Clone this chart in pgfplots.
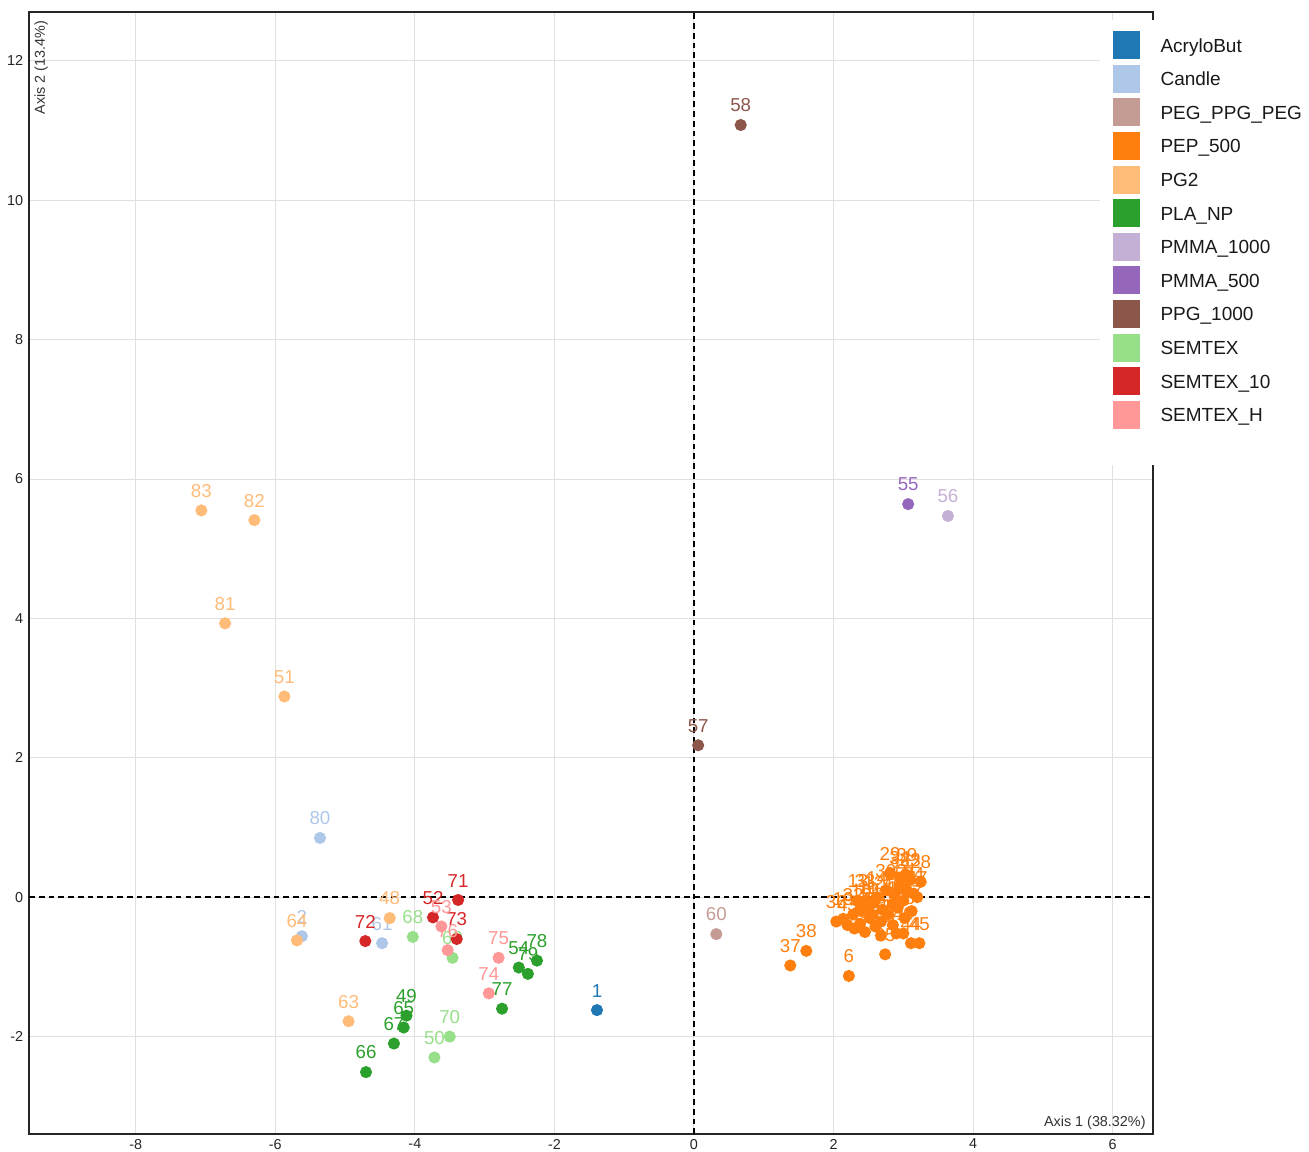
\documentclass[border=0pt]{standalone}
\usepackage{pgfplots}
\pgfplotsset{compat=1.18}
\usepackage{fontspec}
\setmainfont{Liberation Sans}
\definecolor{cA}{HTML}{1F77B4}
\definecolor{cB}{HTML}{AEC7E8}
\definecolor{cC}{HTML}{C49C94}
\definecolor{cD}{HTML}{FF7F0E}
\definecolor{cE}{HTML}{FFBB78}
\definecolor{cF}{HTML}{2CA02C}
\definecolor{cG}{HTML}{C5B0D5}
\definecolor{cH}{HTML}{9467BD}
\definecolor{cI}{HTML}{8C564B}
\definecolor{cJ}{HTML}{98DF8A}
\definecolor{cK}{HTML}{D62728}
\definecolor{cL}{HTML}{FF9896}
\pgfplotsset{
  lab/.style={only marks, mark=*, mark size=1.9pt, color=#1,
    nodes near coords, point meta=explicit symbolic,
    every node near coord/.append style={font=\fontsize{6.5}{7}\selectfont, anchor=south, inner sep=0pt, yshift=4.3pt, text=#1}}
}
\begin{document}
\begin{tikzpicture}
\begin{axis}[
  at={(0,0)}, anchor=south west,
  scale only axis, width=390.7pt, height=390pt,
  xmin=-9.53, xmax=6.58, ymin=-3.40, ymax=12.70,
  xtick={-8,-6,-4,-2,0,2,4,6}, ytick={-2,0,2,4,6,8,10,12},
  grid=major, major grid style={draw=black!12, line width=0.35pt},
  axis line style={line width=0.55pt, black!85},
  tick style={draw=none},
  /pgf/number format/assume math mode=true,
  tick label style={font=\fontsize{5}{6}\selectfont, text=black!85},
  yticklabel style={inner sep=0pt, xshift=-1.8pt},
  xticklabel style={inner sep=0pt, yshift=-1.5pt},
  clip=false,
]
\addplot[black, line width=0.5pt, dash pattern=on 2pt off 1.4pt, forget plot] coordinates {(0,-3.40) (0,12.70)};
\addplot[black, line width=0.5pt, dash pattern=on 2pt off 1.4pt, forget plot] coordinates {(-9.53,0) (6.58,0)};
% AcryloBut
\addplot[lab=cA] table[meta=l] {
x y l
-1.39 -1.62 1
};
% Candle
\addplot[lab=cB] table[meta=l] {
x y l
-5.62 -0.56 2
-4.47 -0.66 61
-5.36 0.85 80
};
% PEG_PPG_PEG
\addplot[lab=cC] table[meta=l] {
x y l
0.32 -0.53 60
};
% PEP_500
\addplot[lab=cD] table[meta=l] {
x y l
2.30 -0.45 3
2.38 -0.38 4
2.45 -0.50 5
2.22 -1.13 6
2.52 -0.30 7
2.60 -0.42 8
2.68 -0.35 9
2.40 -0.20 10
2.50 -0.15 11
2.58 -0.08 12
2.35 -0.05 13
2.62 0.00 14
2.70 -0.18 15
2.78 -0.25 16
2.85 -0.40 17
2.92 -0.15 18
2.14 -0.31 19
3.00 -0.05 20
3.05 0.10 21
2.95 0.15 22
3.10 0.25 23
3.15 0.05 24
2.88 0.05 25
3.02 -0.30 26
3.12 -0.20 27
3.25 0.22 28
2.81 0.34 29
2.75 0.10 30
2.55 -0.25 31
2.28 -0.25 32
2.45 -0.05 33
2.95 0.28 34
2.74 -0.82 35
2.04 -0.35 36
1.38 -0.98 37
1.61 -0.77 38
3.05 0.32 39
3.00 -0.52 40
2.90 -0.52 41
2.68 -0.55 42
2.20 -0.40 43
3.11 -0.66 44
3.23 -0.66 45
2.85 -0.10 46
3.20 0.00 47
};
% PG2
\addplot[lab=cE] table[meta=l] {
x y l
-7.06 5.55 83
-6.30 5.41 82
-6.72 3.93 81
-5.87 2.88 51
-5.69 -0.62 64
-4.36 -0.30 48
-4.95 -1.78 63
};
% PLA_NP
\addplot[lab=cF] table[meta=l] {
x y l
-2.51 -1.01 54
-2.38 -1.10 79
-2.25 -0.91 78
-2.75 -1.60 77
-4.12 -1.70 49
-4.16 -1.87 65
-4.30 -2.10 67
-4.70 -2.51 66
};
% PMMA_1000
\addplot[lab=cG] table[meta=l] {
x y l
3.64 5.47 56
};
% PMMA_500
\addplot[lab=cH] table[meta=l] {
x y l
3.07 5.64 55
};
% PPG_1000
\addplot[lab=cI] table[meta=l] {
x y l
0.67 11.08 58
0.06 2.18 57
};
% SEMTEX
\addplot[lab=cJ] table[meta=l] {
x y l
-4.03 -0.57 68
-3.46 -0.87 69
-3.50 -2.00 70
-3.72 -2.30 50
};
% SEMTEX_10
\addplot[lab=cK] table[meta=l] {
x y l
-4.71 -0.63 72
-3.74 -0.29 52
-3.38 -0.04 71
-3.40 -0.60 73
};
% SEMTEX_H
\addplot[lab=cL] table[meta=l] {
x y l
-3.62 -0.42 53
-3.53 -0.76 76
-2.80 -0.87 75
-2.94 -1.38 74
};
\end{axis}
\node[rotate=90, anchor=north east, inner sep=0pt, font=\fontsize{5}{6}\selectfont, text=black!80] at (1.7pt,387.2pt) {Axis 2 (13.4\%)};
\node[anchor=base east, inner sep=0pt, font=\fontsize{5}{6}\selectfont, text=black!80] at (388.3pt,2.6pt) {Axis 1 (38.32\%)};
\fill[white] (372.3pt,232.5pt) rectangle (444.9pt,387.4pt);
\foreach \c/\t [count=\i from 0] in {cA/AcryloBut,cB/Candle,cC/PEG\_PPG\_PEG,cD/PEP\_500,cE/PG2,cF/PLA\_NP,cG/PMMA\_1000,cH/PMMA\_500,cI/PPG\_1000,cJ/SEMTEX,cK/SEMTEX\_10,cL/SEMTEX\_H} {
  \fill[\c] ({376.8pt},{(373.65-11.68*\i)*1pt}) rectangle ({386.2pt},{(383.35-11.68*\i)*1pt});
  \node[anchor=base west, inner sep=0pt, font=\fontsize{6.6}{7.5}\selectfont, text=black!90] at ({393.1pt},{(376.1-11.68*\i)*1pt}) {\t};
}
\pgfresetboundingbox
\path[use as bounding box] (-10.08pt,-5.91pt) rectangle (444.9pt,394.2pt);
\end{tikzpicture}
\end{document}
